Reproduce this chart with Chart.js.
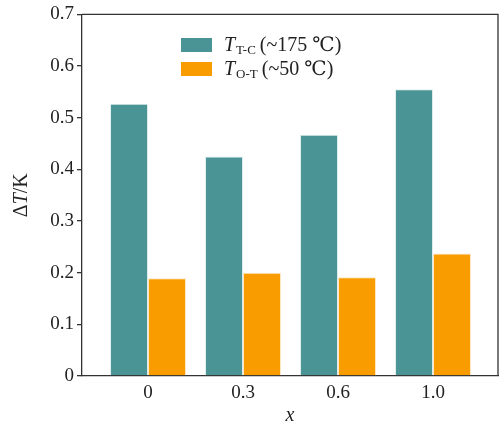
<!DOCTYPE html>
<html>
<head>
<meta charset="utf-8">
<script src="https://cdn.jsdelivr.net/npm/chart.js@4.4.0/dist/chart.umd.min.js"></script>
<style>
  html, body { margin: 0; padding: 0; background: #fff; }
  #wrap { width: 501px; height: 428px; }
</style>
</head>
<body>
<div id="wrap"><canvas id="c" width="501" height="428"></canvas></div>
<script>
var xLabels = ['0', '0.3', '0.6', '1.0'];
var tcValues = [0.527, 0.425, 0.467, 0.555];
var otValues = [0.189, 0.200, 0.191, 0.237];
var yTicks = [0, 0.1, 0.2, 0.3, 0.4, 0.5, 0.6, 0.7];

var teal = 'rgb(74,148,150)';
var orange = 'rgb(248,156,0)';
var serif = '"Liberation Serif", "DejaVu Serif", serif';

function toPoints(vals){
    return vals.map(function(v, i){ return { x: i, y: v }; });
}

// frame on top/right, y title with an italic T, and the legend with subscripts
var extras = {
    id: 'extras',
    afterDraw: function(chart){
        var c = chart.ctx, a = chart.chartArea;
        c.save();
        c.strokeStyle = '#333';
        c.lineWidth = 1.3;
        c.beginPath();
        c.moveTo(a.left, a.top);
        c.lineTo(a.right, a.top);
        c.lineTo(a.right, a.bottom);
        c.stroke();

        c.translate(22, (a.top + a.bottom) / 2);
        c.rotate(-Math.PI / 2);
        c.fillStyle = '#222';
        c.textBaseline = 'middle';
        var parts = [['\u0394', '20px ' + serif], ['T', 'italic 20px ' + serif], ['/K', '20px ' + serif]];
        var w = 0;
        parts.forEach(function(p){ c.font = p[1]; w += c.measureText(p[0]).width; });
        var x = -w / 2;
        parts.forEach(function(p){ c.font = p[1]; c.textAlign = 'left'; c.fillText(p[0], x, 0); x += c.measureText(p[0]).width; });
        c.restore();

        var items = [
            { color: teal, sub: 'T-C', rest: '(~175 \u2103)' },
            { color: orange, sub: 'O-T', rest: '(~50 \u2103)' }
        ];
        c.save();
        items.forEach(function(it, i){
            var y = 38 + i * 24;
            c.fillStyle = it.color;
            c.fillRect(181, y, 31, 14);
            c.fillStyle = '#222';
            c.textBaseline = 'alphabetic';
            c.textAlign = 'left';
            var tx = 224, base = y + 13;
            c.font = 'italic 20px ' + serif;
            c.fillText('T', tx, base);
            tx += c.measureText('T').width + 1;
            c.font = '13px ' + serif;
            c.fillText(it.sub, tx, base + 3);
            tx += c.measureText(it.sub).width + 4;
            c.font = '20px ' + serif;
            c.fillText(it.rest, tx, base);
        });
        c.restore();
    }
};

new Chart(document.getElementById('c'), {
    type: 'bar',
    data: {
        datasets: [
            {
                label: 'T T-C (~175 \u2103)',
                data: toPoints(tcValues),
                backgroundColor: teal,
                borderColor: 'rgba(220,235,235,0.9)',
                borderWidth: 1,
                categoryPercentage: 0.8,
                barPercentage: 1.0
            },
            {
                label: 'T O-T (~50 \u2103)',
                data: toPoints(otValues),
                backgroundColor: orange,
                borderColor: 'rgba(255,230,190,0.9)',
                borderWidth: 1,
                categoryPercentage: 0.8,
                barPercentage: 1.0
            }
        ]
    },
    options: {
        responsive: false,
        animation: false,
        layout: { padding: { top: 13, right: 3, left: 0, bottom: 0 } },
        plugins: { legend: { display: false }, tooltip: { enabled: false } },
        scales: {
            x: {
                type: 'linear',
                min: -0.695,
                max: 3.684,
                offset: false,
                afterBuildTicks: function(s){ s.ticks = xLabels.map(function(l, i){ return { value: i }; }); },
                afterFit: function(s){ s.height = 52; },
                grid: { display: false },
                border: { display: true, color: '#333', width: 1.3 },
                ticks: {
                    callback: function(v){ return xLabels[v]; },
                    color: '#222',
                    font: { family: serif, size: 19 },
                    padding: -2,
                    maxRotation: 0
                },
                title: {
                    display: true,
                    text: 'x',
                    color: '#222',
                    font: { family: serif, size: 20, style: 'italic' },
                    padding: { top: 0, bottom: 0 }
                }
            },
            y: {
                min: 0,
                max: 0.7,
                afterFit: function(s){ s.width = 82; },
                afterBuildTicks: function(s){ s.ticks = yTicks.map(function(v){ return { value: v }; }); },
                grid: { display: true, drawOnChartArea: false, drawTicks: true, tickLength: 5, color: '#333', lineWidth: 1.3 },
                border: { display: true, color: '#333', width: 1.3 },
                ticks: {
                    callback: function(v){ return v === 0 ? '0' : v.toFixed(1); },
                    color: '#222',
                    font: { family: serif, size: 19 },
                    padding: 3
                }
            }
        }
    },
    plugins: [extras]
});
</script>
</body>
</html>
